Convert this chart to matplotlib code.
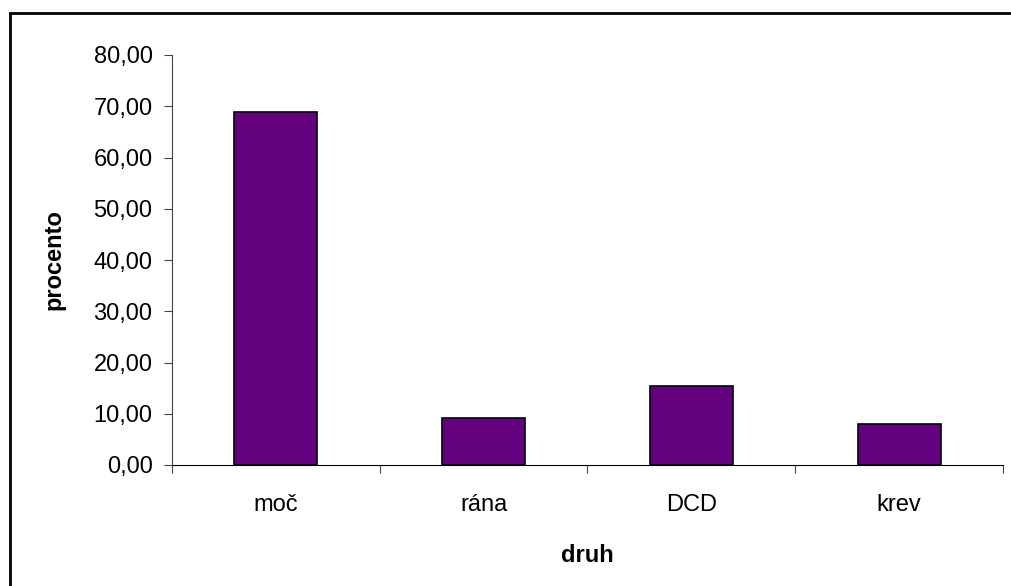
import matplotlib
matplotlib.use('Agg')
import matplotlib.pyplot as plt
from matplotlib.patches import Rectangle

categories = ['moč', 'rána', 'DCD', 'krev']
values = [68.8, 9.2, 15.4, 8.0]
yticks = [0, 10, 20, 30, 40, 50, 60, 70, 80]

plt.rcParams['font.family'] = ['Liberation Sans', 'DejaVu Sans']

W, H = 1012, 586
fs = 17
fig = plt.figure(figsize=(W / 100, H / 100), dpi=100)
ax = fig.add_axes([172 / W, 1 - 465 / H, (1003 - 172) / W, (465 - 55) / H])

x = range(len(categories))
ax.bar(x, values, width=0.4, color='#62007e', edgecolor='black', linewidth=1.2)

ax.set_xlim(-0.5, len(categories) - 0.5)
ax.set_ylim(0, 80)
ax.set_yticks(yticks)
ax.set_yticklabels([('%.2f' % v).replace('.', ',') for v in yticks], fontsize=fs)
ax.set_xticks([i - 0.5 for i in range(len(categories) + 1)])
ax.set_xticklabels([])
ax.set_xticks(list(x), minor=True)
ax.set_xticklabels(categories, minor=True, fontsize=fs)
ax.tick_params(axis='x', which='minor', length=0, pad=21)
ax.tick_params(axis='x', which='major', length=6, direction='out', color='#444444')
ax.tick_params(axis='y', length=6, direction='out', color='#444444', pad=8)

for s in ['top', 'right']:
    ax.spines[s].set_visible(False)
ax.spines['left'].set_color('#444444')
ax.spines['bottom'].set_color('black')

ax.set_ylabel('procento', fontsize=fs, fontweight='bold', labelpad=20)
ax.set_xlabel('druh', fontsize=fs, fontweight='bold', labelpad=20)

fig.patches.append(Rectangle((10 / W, -0.1), 1.2, 1 - 13 / H + 0.1,
                             transform=fig.transFigure, fill=False,
                             edgecolor='black', linewidth=2))

fig.savefig('out.png', dpi=100)
